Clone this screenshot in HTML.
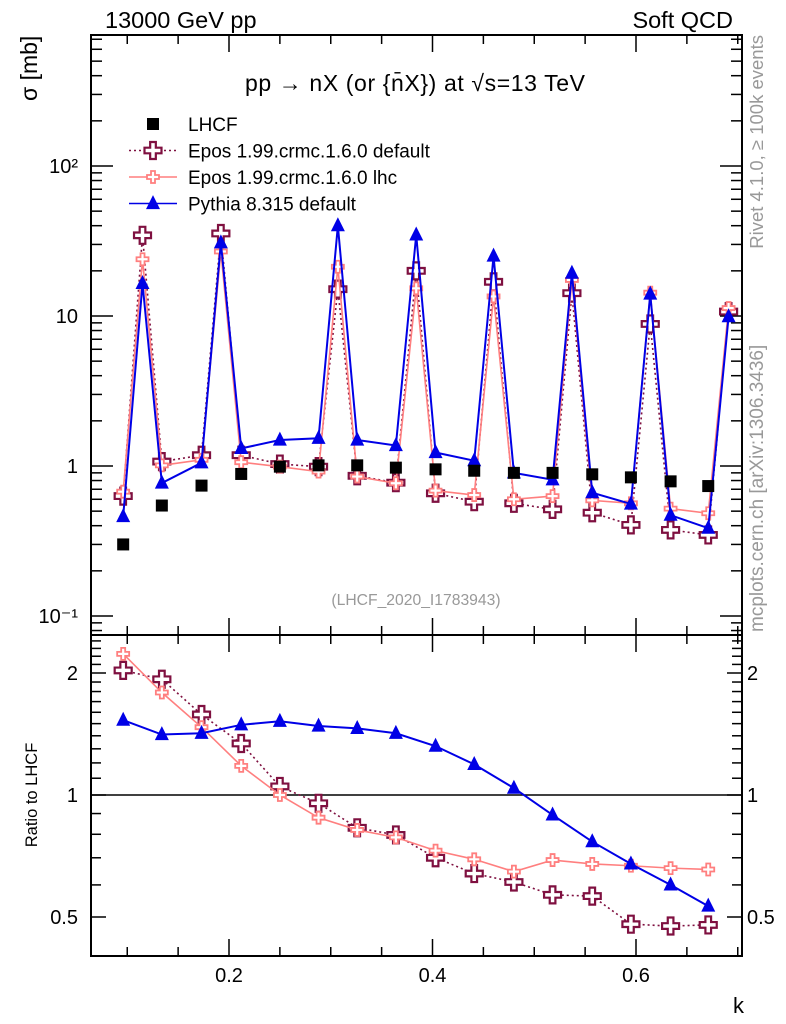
<!DOCTYPE html>
<html><head><meta charset="utf-8"><style>
body{margin:0;background:#fff;}
svg{display:block;font-family:"Liberation Sans",sans-serif;}
</style></head><body>
<svg id="c" width="786" height="1024" viewBox="0 0 786 1024">
<text x="105" y="28" font-size="23.5">13000 GeV pp</text>
<text x="733" y="28" font-size="23.5" text-anchor="end">Soft QCD</text>
<text x="415" y="91" font-size="23" text-anchor="middle" textLength="340">pp → nX (or {n̄X}) at √s=13 TeV</text>
<text transform="translate(37,101) rotate(-90)" font-size="23">σ [mb]</text>
<text transform="translate(37,795) rotate(-90)" font-size="16.5" text-anchor="middle">Ratio to LHCF</text>
<text x="733" y="1013" font-size="22">k</text>
<text transform="translate(763,35) rotate(-90)" font-size="18.5" fill="#999" text-anchor="end">Rivet 4.1.0, ≥ 100k events</text>
<text transform="translate(763,632) rotate(-90)" font-size="19" fill="#999">mcplots.cern.ch [arXiv:1306.3436]</text>
<text x="416" y="605" font-size="15.7" fill="#999" text-anchor="middle">(LHCF_2020_I1783943)</text>
<g id="legend"></g>
<g id="plot"></g>
</svg>
<script>
const kAll=[0.096,0.115,0.134,0.173,0.192,0.212,0.250,0.288,0.307,0.326,0.364,0.384,0.403,0.441,0.460,0.480,0.518,0.537,0.557,0.595,0.614,0.634,0.671,0.691];
const kData=[0.096,0.134,0.173,0.212,0.250,0.288,0.326,0.364,0.403,0.441,0.480,0.518,0.557,0.595,0.634,0.671];
const lhcf=[0.30,0.545,0.74,0.885,0.99,1.01,1.01,0.975,0.95,0.93,0.90,0.90,0.88,0.84,0.79,0.735];
const pythia=[0.46,16.5,0.77,1.05,30.8,1.31,1.49,1.53,40,1.49,1.37,34.7,1.23,1.085,25.1,0.90,0.81,19.3,0.664,0.558,14,0.47,0.385,9.9];
const eposDef=[0.63,34.5,1.07,1.18,35.5,1.18,1.03,0.99,15.1,0.86,0.774,20,0.658,0.578,16.9,0.564,0.514,14.2,0.488,0.405,8.85,0.375,0.347,10.7];
const eposLhc=[0.674,23.9,1.01,1.10,26.9,1.06,0.99,0.917,21.3,0.85,0.767,15.3,0.685,0.64,13.5,0.60,0.63,17.4,0.59,0.564,14.3,0.52,0.484,11.3];
const rPythia=[1.53,1.41,1.42,1.49,1.52,1.48,1.46,1.42,1.32,1.19,1.04,0.893,0.767,0.676,0.60,0.532];
const rEposDef=[2.03,1.93,1.58,1.34,1.05,0.954,0.83,0.797,0.70,0.64,0.61,0.567,0.563,0.48,0.475,0.478];
const rEposLhc=[2.23,1.79,1.47,1.18,1.0,0.879,0.82,0.786,0.729,0.694,0.647,0.691,0.676,0.669,0.66,0.655];
const xTicks=[0.2,0.4,0.6];
const yTicks=[100,10,1,0.1];
const yTickLabels=["10²","10","1","10⁻¹"];
const rTicks=[2,1,0.5];
const rTickLabels=["2","1","0.5"];

const NS="http://www.w3.org/2000/svg";
const L=91,R=742,T=35,MB=635,RB=956;
const X=k=>229+(k-0.2)*1017.5;
const Y=v=>466-150*Math.log10(v);
const YR=r=>795-122*Math.log2(r);
const plot=document.getElementById('plot');
function mk(tag,attrs,parent){const e=document.createElementNS(NS,tag);for(const a in attrs)e.setAttribute(a,attrs[a]);(parent||plot).appendChild(e);return e;}
function line(x1,y1,x2,y2,p,w){return mk('line',{x1,y1,x2,y2,stroke:'#000','stroke-width':w||1.5},p);}

let f=mk('rect',{x:L,y:T,width:R-L,height:MB-T,fill:'none',stroke:'#000','stroke-width':2});


f=mk('rect',{x:L,y:MB,width:R-L,height:RB-MB,fill:'none',stroke:'#000','stroke-width':2});


for(let k=0.1;k<0.71;k+=0.05){const x=X(k);const maj=Math.abs(k*10-Math.round(k*10))<0.01&&Math.round(k*10)%2===0;const len=maj?17:9;
 line(x,T,x,T+len);line(x,MB,x,MB-len);line(x,MB,x,MB+len);line(x,RB,x,RB-len);}
const g=mk('g',{});


xTicks.forEach(k=>{const t=mk('text',{x:X(k),y:982,'font-size':20,'text-anchor':'middle'},g);t.textContent=k.toFixed(1);});
for(let d=-2;d<=2;d++)for(let m=1;m<=9;m++){const v=m*Math.pow(10,d);const y=Y(v);if(y<T||y>MB)continue;const len=m===1?22:11;line(L,y,L+len,y);line(R,y,R-len,y);}
const gy=mk('g',{});


yTicks.forEach((v,i)=>{const t=mk('text',{x:78,y:Y(v)+7,'font-size':20,'text-anchor':'end'},gy);t.textContent=yTickLabels[i];});
const rMinor=[0.5,0.6,0.7,0.8,0.9,1,1.1,1.2,1.3,1.4,1.5,1.6,1.7,1.8,1.9,2,2.1,2.2,2.3,2.4];
rMinor.forEach(r=>{const y=YR(r);const maj=rTicks.includes(r);const len=maj?15:10;line(L,y,L+len,y);line(R,y,R-len,y);});
const gr=mk('g',{});


rTicks.forEach((r,i)=>{let t=mk('text',{x:78,y:YR(r)+7,'font-size':20,'text-anchor':'end'},gr);t.textContent=rTickLabels[i];
 t=mk('text',{x:747,y:YR(r)+7,'font-size':20},gr);t.textContent=rTickLabels[i];});
line(L,YR(1),R,YR(1),plot,1.5);

function cross(p,x,y,s,col,sw){const a=s/6;const d=`M${x-a},${y-3*a}h${2*a}v${2*a}h${2*a}v${2*a}h${-2*a}v${2*a}h${-2*a}v${-2*a}h${-2*a}v${-2*a}h${2*a}z`;return mk('path',{d,fill:'#fff',stroke:col,'stroke-width':sw},p);}
function tri(p,x,y,s,col){return mk('polygon',{points:`${x},${y-s*0.6} ${x-s/2},${y+s*0.4} ${x+s/2},${y+s*0.4}`,fill:col},p);}
function series(name,ks,vals,yf,col,dash,kind){
 const grp=mk('g',{});
 
 
 const pts=ks.map((k,i)=>X(k)+','+yf(vals[i])).join(' ');
 if(kind!=='sq'){mk('polyline',{points:pts,fill:'none',stroke:col,'stroke-width':kind==='tri'?2:1.6,'stroke-dasharray':dash||'none'},grp);}
 ks.forEach((k,i)=>{const x=X(k),y=yf(vals[i]);let m;
  if(kind==='sq')m=mk('rect',{x:x-6,y:y-6,width:12,height:12,fill:'#000'},grp);
  else if(kind==='crossBig')m=cross(grp,x,y,17,col,2.2);
  else if(kind==='crossSm')m=cross(grp,x,y,12,col,1.8);
  else m=tri(grp,x,y,14,col);
  
  });
}
const DEF='#7f1040',LHC='#ff7f7f',PY='#0000e6';
series('epos-default-series',kAll,eposDef,Y,DEF,'2,3','crossBig');
series('epos-lhc-series',kAll,eposLhc,Y,LHC,null,'crossSm');
series('pythia-series',kAll,pythia,Y,PY,null,'tri');
series('lhcf-data',kData,lhcf,Y,'#000',null,'sq');
series('ratio-epos-default',kData,rEposDef,YR,DEF,'2,3','crossBig');
series('ratio-epos-lhc',kData,rEposLhc,YR,LHC,null,'crossSm');
series('ratio-pythia',kData,rPythia,YR,PY,null,'tri');

const lg=document.getElementById('legend');
const items=[['LHCF','sq'],['Epos 1.99.crmc.1.6.0 default','crossBig'],['Epos 1.99.crmc.1.6.0 lhc','crossSm'],['Pythia 8.315 default','tri']];
const cols=['#000',DEF,LHC,PY];
items.forEach((it,i)=>{const y=124+i*26.5;const e=mk('g',{},lg);
 
 
 const c=cols[i];
 if(it[1]==='sq')mk('rect',{x:147,y:y-6,width:12,height:12,fill:'#000'},e);
 else{mk('line',{x1:129,y1:y,x2:177,y2:y,stroke:c,'stroke-width':1.6,'stroke-dasharray':it[1]==='crossBig'?'2,3':'none'},e);
  if(it[1]==='crossBig')cross(e,153,y,17,c,2.2);else if(it[1]==='crossSm')cross(e,153,y,12,c,1.8);else tri(e,153,y,14,c);}
 const t=mk('text',{x:188,y:y+7,'font-size':19},e);t.textContent=it[0];});
</script>
</body></html>
